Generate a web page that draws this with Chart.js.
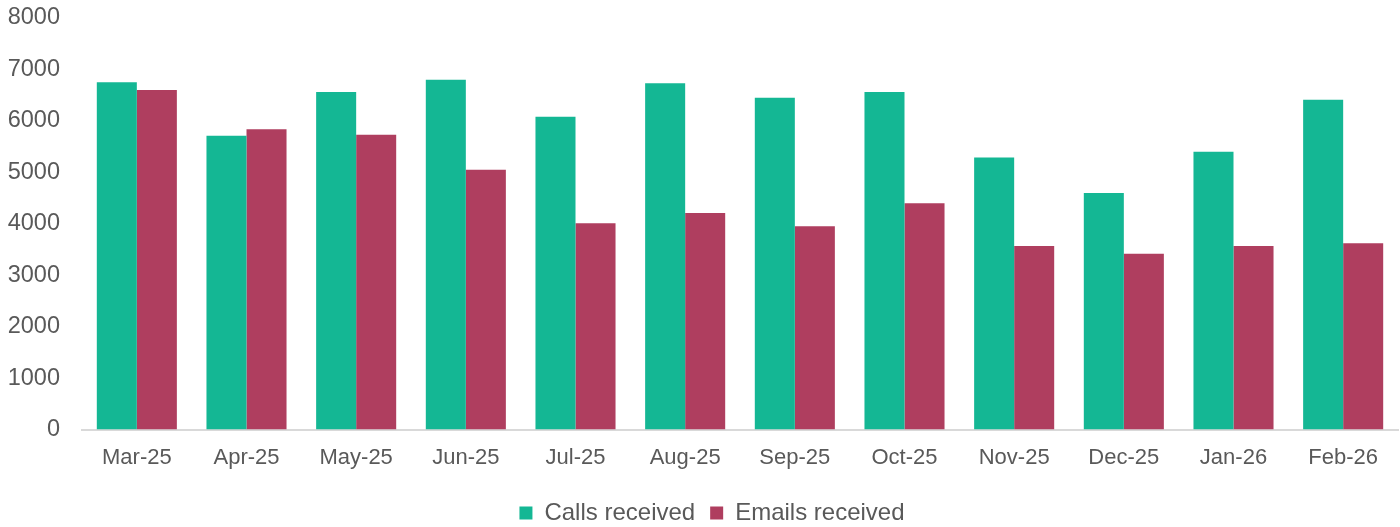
<!DOCTYPE html>
<html>
<head>
<meta charset="utf-8">
<script src="https://cdn.jsdelivr.net/npm/chart.js@4/dist/chart.umd.min.js"></script>
<style>
  html, body { margin: 0; padding: 0; background: #fff; }
  #wrap { width: 1400px; height: 527px; }
</style>
</head>
<body>
<div id="wrap"><canvas id="volumeChart"></canvas></div>
<script>
// Monthly contact volumes
const months = ['Mar-25', 'Apr-25', 'May-25', 'Jun-25', 'Jul-25', 'Aug-25',
                'Sep-25', 'Oct-25', 'Nov-25', 'Dec-25', 'Jan-26', 'Feb-26'];
const callsReceived = [6750, 5710, 6560, 6800, 6080, 6730, 6450, 6560, 5290, 4600, 5400, 6410];
const emailsReceived = [6600, 5840, 5730, 5050, 4010, 4210, 3950, 4400, 3570, 3420, 3570, 3620];
const yTicks = [0, 1000, 2000, 3000, 4000, 5000, 6000, 7000, 8000];

const textColor = '#595959';
Chart.defaults.font.family = 'Liberation Sans, Arial, sans-serif';
Chart.defaults.font.size = 22;
Chart.defaults.color = textColor;

// the legend in the original sits a little right of centre
const legendShift = {
    id: 'legendShift',
    afterLayout(chart) {
        chart.legend.left += 13;
        chart.legend.right += 13;
    }
};

const ctx = document.getElementById('volumeChart').getContext('2d');
const volumeChart = new Chart(ctx, {
    type: 'bar',
    data: {
        labels: months,
        datasets: [{
            label: 'Calls received',
            data: callsReceived,
            backgroundColor: '#14B794'
        }, {
            label: 'Emails received',
            data: emailsReceived,
            backgroundColor: '#AF3E5F'
        }]
    },
    plugins: [legendShift],
    options: {
        responsive: true,
        maintainAspectRatio: false,
        animation: false,
        layout: {
            padding: { left: 0, right: 2, top: 18, bottom: -8 }
        },
        datasets: {
            bar: {
                categoryPercentage: 0.73,
                barPercentage: 1
            }
        },
        plugins: {
            legend: {
                position: 'bottom',
                labels: {
                    boxWidth: 13,
                    boxHeight: 13,
                    padding: 15,
                    color: textColor,
                    font: { size: 24 }
                }
            },
            tooltip: { enabled: false }
        },
        scales: {
            x: {
                grid: { display: false, drawTicks: false },
                border: { display: true, color: '#D9D9D9', width: 2 },
                ticks: { padding: 15, color: textColor, maxRotation: 0 }
            },
            y: {
                min: yTicks[0],
                max: yTicks[yTicks.length - 1],
                afterBuildTicks: (axis) => {
                    axis.ticks = yTicks.map(v => ({ value: v }));
                },
                afterFit: (axis) => {
                    axis.width = 82;
                    axis.paddingTop = 0;
                    axis.paddingBottom = 0;
                },
                grid: { display: false, drawTicks: false },
                border: { display: false },
                ticks: {
                    padding: 22,
                    color: textColor,
                    font: { size: 23.5 },
                    callback: (v) => String(v)
                }
            }
        }
    }
});
</script>
</body>
</html>
